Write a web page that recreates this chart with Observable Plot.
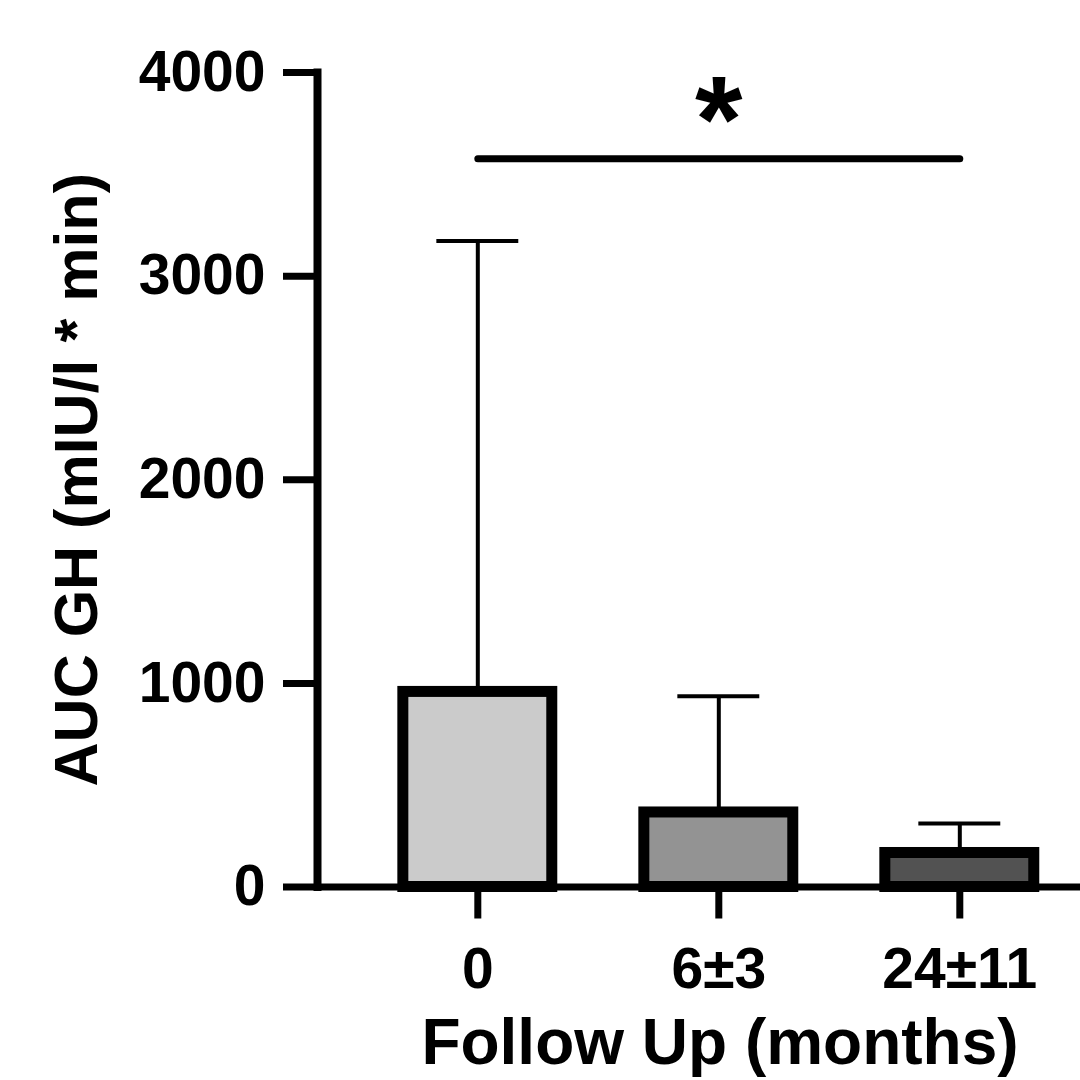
<!DOCTYPE html>
<html>
<head>
<meta charset="utf-8">
<script src="https://cdn.jsdelivr.net/npm/d3@7"></script>
<script src="https://cdn.jsdelivr.net/npm/@observablehq/plot@0.6"></script>
<style>
  html, body { margin: 0; padding: 0; background: #fff; }
  #chart { width: 1080px; height: 1080px; }
</style>
</head>
<body>
<div id="chart"></div>
<script>
const categories = ["0", "6±3", "24±11"];
const means = [958, 366, 167];
const upperErrors = [3172, 937, 312];
const fills = ["#cbcbcb", "#939393", "#525252"];
const yTicks = [0, 1000, 2000, 3000, 4000];
const sigFrom = "0";
const sigTo = "24±11";
const sigValue = 3577;
const sigLabel = "*";

const data = categories.map((c, i) => ({cat: c, value: means[i], upper: upperErrors[i], fill: fills[i]}));

const chart = Plot.plot({
  width: 1080,
  height: 1080,
  marginTop: 72,
  marginBottom: 193.5,
  marginLeft: 317,
  marginRight: 0,
  style: {fontFamily: "'Liberation Sans', Arial, sans-serif", fontWeight: "bold", color: "#000", background: "#fff"},
  x: {type: "band", domain: categories, range: [317, 1080], paddingInner: 0.382, paddingOuter: 0.274, align: 0.65, round: false},
  y: {domain: [0, 4000], label: null},
  marks: [
    Plot.ruleX(data, {x: "cat", y1: "value", y2: "upper", stroke: "#000", strokeWidth: 4}),
    Plot.tickY(data, {x: "cat", y: "upper", stroke: "#000", strokeWidth: 4, insetLeft: 33.5, insetRight: 33.5}),
    Plot.barY(data, {x: "cat", y: "value", fill: "fill", stroke: "#000", strokeWidth: 11}),
    Plot.frame({anchor: "left", stroke: "#000", strokeWidth: 8}),
    Plot.ruleY([0], {stroke: "#000", strokeWidth: 7}),
    Plot.axisY({ticks: yTicks, tickFormat: "d", tickSize: 34, tickPadding: 18, strokeWidth: 7, fontSize: 57, label: null}),
    Plot.axisX({tickSize: 32, tickPadding: 29, strokeWidth: 7, fontSize: 57, label: null}),
    Plot.link([{a: sigFrom, b: sigTo, y: sigValue}], {x1: "a", x2: "b", y1: "y", y2: "y", stroke: "#000", strokeWidth: 7, strokeLinecap: "round"}),
    Plot.text([{x: "6±3", y: sigValue, t: sigLabel}], {x: "x", y: "y", text: "t", fontSize: 122, dy: -37, fill: "#000"}),
    Plot.text(["Follow Up (months)"], {frameAnchor: "bottom", dx: 21, dy: 177, fontSize: 64, fill: "#000"}),
    Plot.text(["AUC GH (mIU/l * min)"], {frameAnchor: "left", textAnchor: "middle", rotate: -90, dx: -240, fontSize: 61, fill: "#000"})
  ]
});
document.getElementById("chart").appendChild(chart);
</script>
</body>
</html>
